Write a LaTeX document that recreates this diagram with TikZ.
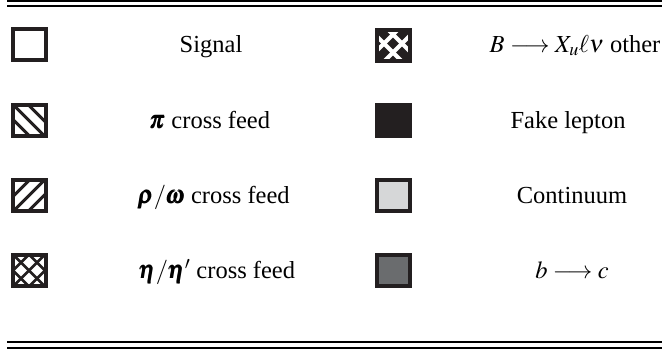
\documentclass[tikz,border=0pt]{standalone}
\usepackage{amsmath}
\usepackage{mathptmx}
\usepackage[no-math]{fontspec}
\setmainfont{Liberation Serif}
\definecolor{dkc}{HTML}{231F20}
\definecolor{lgc}{HTML}{D6D7D8}
\definecolor{mgc}{HTML}{6A6C6E}
\begin{document}
\begin{tikzpicture}[x=1pt,y=-1pt,
  legbox/.style={draw=dkc,line width=4pt,minimum width=33pt,minimum height=31pt,inner sep=0pt,fill=white},
  hl/.style={dkc,line width=3pt},
  hatchnw/.style={path picture={\foreach \c in {-15,0,15}{\draw[hl] ([xshift=\c pt]path picture bounding box.center) ++(-30,-30) -- ++(60,60);}}},
  hatchne/.style={path picture={\foreach \c in {-15,0,15}{\draw[hl] ([xshift=\c pt]path picture bounding box.center) ++(-30,30) -- ++(60,-60);}}},
  hatchx/.style={path picture={\foreach \c in {-16,0,16}{\draw[hl,line width=2.6pt] ([xshift=\c pt]path picture bounding box.center) ++(-30,30) -- ++(60,-60); \draw[hl,line width=2.6pt] ([xshift=\c pt]path picture bounding box.center) ++(-30,-30) -- ++(60,60);}}},
  weave/.style={fill=dkc,path picture={\foreach \c in {-11,7}{\draw[white,line width=4pt] ([xshift=\c pt]path picture bounding box.center) ++(-30,30) -- ++(60,-60);}\foreach \c in {-7,11}{\draw[white,line width=4pt] ([xshift=\c pt]path picture bounding box.center) ++(-30,-30) -- ++(60,60);}}},
  lab/.style={anchor=base,inner sep=0pt,font=\fontsize{24.5pt}{29pt}\selectfont},
  rl/.style={line width=2pt,black}]
\useasboundingbox (0,0) rectangle (663,349);
% rules
\draw[line width=1.4pt] (7,0.8) -- (662,0.8);
\draw[rl] (7,6.3) -- (662,6.3);
\draw[rl] (7,342) -- (662,342);
\draw[rl] (7,348) -- (662,348);
% left column
\node[legbox] (b1) at (29,44.5) {};
\node[legbox,hatchnw] (b2) at (29,120.5) {};
\node[legbox,hatchne] (b3) at (29,195.5) {};
\node[legbox,hatchx] (b4) at (29,270.5) {};
% right column
\node[legbox,weave] (b5) at (393,45.5) {};
\node[legbox,fill=dkc] (b6) at (393,120.5) {};
\node[legbox,fill=lgc] (b7) at (393,195.5) {};
\node[legbox,fill=mgc] (b8) at (393,270.5) {};
% labels
\node[lab] (t1) at (211,52) {Signal};
\node[lab] (t2) at (210,128) {$\pmb{\pi}$ cross feed};
\node[lab] (t3) at (214,203) {$\pmb{\rho}/\pmb{\omega}$ cross feed};
\node[lab] (t4) at (217,278) {$\pmb{\eta}/\pmb{\eta}'$ cross feed};
\node[lab] (t5) at (575,52) {$B\longrightarrow X_u\ell\nu$ other};
\node[lab] (t6) at (568,128) {Fake lepton};
\node[lab] (t7) at (572,203) {Continuum};
\node[lab] (t8) at (572,278) {$b\longrightarrow c$};
\end{tikzpicture}
\end{document}
